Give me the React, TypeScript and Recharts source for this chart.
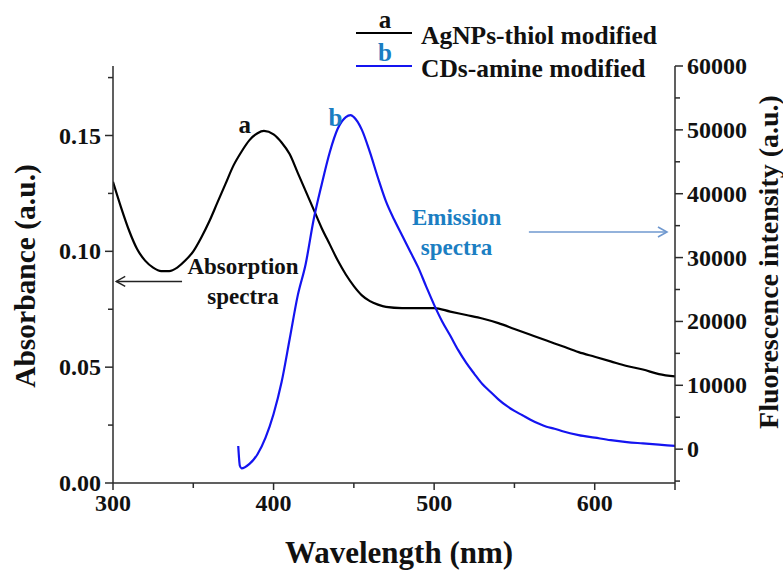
import React from 'react';
import { ComposedChart, Line, XAxis, YAxis, ReferenceDot, ReferenceLine, Label } from 'recharts';

// ---- data ----
const wavelengthA = [300, 305, 310, 315, 320, 325, 330, 335, 340, 345, 350, 355, 360, 365, 370, 375, 380, 385, 390, 394, 400, 405, 410, 415, 420, 425, 430, 435, 440, 445, 450, 455, 460, 465, 470, 480, 490, 500, 510, 520, 530, 540, 550, 560, 570, 580, 590, 600, 610, 620, 630, 640, 650];
const absorbanceA = [0.130, 0.119, 0.109, 0.101, 0.096, 0.093, 0.0915, 0.0915, 0.093, 0.096, 0.100, 0.106, 0.113, 0.121, 0.129, 0.137, 0.143, 0.148, 0.151, 0.152, 0.1505, 0.147, 0.142, 0.134, 0.126, 0.118, 0.110, 0.103, 0.096, 0.090, 0.085, 0.081, 0.0785, 0.077, 0.076, 0.0755, 0.0755, 0.0755, 0.074, 0.0725, 0.071, 0.069, 0.0665, 0.064, 0.0615, 0.059, 0.0565, 0.0545, 0.0525, 0.0505, 0.049, 0.047, 0.046];

const wavelengthB = [378, 379, 380, 385, 390, 395, 400, 405, 410, 415, 420, 425, 430, 435, 440, 445, 448, 450, 455, 460, 465, 470, 475, 480, 485, 490, 495, 500, 505, 510, 515, 520, 525, 530, 535, 540, 545, 550, 555, 560, 565, 570, 575, 580, 590, 600, 610, 620, 630, 640, 650];
const intensityB = [500, -2600, -3000, -2300, -800, 1800, 5500, 10500, 17200, 24000, 29000, 36000, 41500, 46500, 50200, 52000, 52300, 52000, 50000, 46500, 42500, 38800, 36000, 33500, 31000, 28500, 25500, 22600, 20000, 17800, 15500, 13500, 11800, 10200, 9000, 7800, 6800, 6000, 5300, 4600, 4000, 3500, 3200, 2800, 2200, 1800, 1400, 1100, 900, 700, 500];

const xTicks = [300, 350, 400, 450, 500, 550, 600, 650];
const xMajor = [300, 400, 500, 600];
const leftTicks = [0, 0.025, 0.05, 0.075, 0.1, 0.125, 0.15, 0.175];
const leftMajor = [0, 0.05, 0.1, 0.15];
const rightTicks = [-5000, 0, 5000, 10000, 15000, 20000, 25000, 30000, 35000, 40000, 45000, 50000, 55000, 60000];
const rightMajor = [0, 10000, 20000, 30000, 40000, 50000, 60000];

const seriesNames = ['AgNPs-thiol modified', 'CDs-amine modified'];
const seriesTags = ['a', 'b'];

const xTitle = 'Wavelength (nm)';
const leftTitle = 'Absorbance (a.u.)';
const rightTitle = 'Fluorescence intensity (a.u.)';

// ---- styles ----
const FONT = '"Liberation Serif", "Times New Roman", serif';
const AXIS = '#2b2b2b';
const BLACK = '#000000';
const BLUE = '#1414f0';
const TEXT_BLUE = '#1b7ec2';
const ARROW_BLUE = '#6f98cf';

const dataA = wavelengthA.map((w, i) => ({ w, v: absorbanceA[i] }));
const dataB = wavelengthB.map((w, i) => ({ w, v: intensityB[i] }));

const TICK_FS = 24;

const isIn = (arr: number[], v: number) => arr.some((m) => Math.abs(m - v) < 1e-9);

const LeftTick = (p: any) => {
  const v = p.payload.value;
  const major = isIn(leftMajor, v);
  return (
    <g>
      <line x1={p.x} x2={p.x - (major ? 8 : 5)} y1={p.y} y2={p.y} stroke={AXIS} strokeWidth={1.5} />
      {major && (
        <text x={p.x - 12} y={p.y} textAnchor="end" dominantBaseline="central" fontFamily={FONT} fontWeight="bold" fontSize={TICK_FS} fill="#111">
          {v.toFixed(2)}
        </text>
      )}
    </g>
  );
};

const RightTick = (p: any) => {
  const v = p.payload.value;
  const major = isIn(rightMajor, v);
  return (
    <g>
      <line x1={p.x} x2={p.x + (major ? 8 : 5)} y1={p.y} y2={p.y} stroke={AXIS} strokeWidth={1.5} />
      {major && (
        <text x={p.x + 12} y={p.y} textAnchor="start" dominantBaseline="central" fontFamily={FONT} fontWeight="bold" fontSize={TICK_FS} fill="#111">
          {String(v)}
        </text>
      )}
    </g>
  );
};

const BottomTick = (p: any) => {
  const v = p.payload.value;
  const major = isIn(xMajor, v) || v === 650;
  return (
    <g>
      <line x1={p.x} x2={p.x} y1={p.y} y2={p.y + (major ? 7 : 5)} stroke={AXIS} strokeWidth={1.5} />
      {isIn(xMajor, v) && (
        <text x={p.x} y={p.y + 11} textAnchor="middle" dominantBaseline="hanging" fontFamily={FONT} fontWeight="bold" fontSize={TICK_FS} fill="#111">
          {String(v)}
        </text>
      )}
    </g>
  );
};

const textShape = (txt: string, color: string, size: number) => (p: any) => (
  <text x={p.cx} y={p.cy} textAnchor="middle" dominantBaseline="central" fontFamily={FONT} fontWeight="bold" fontSize={size} fill={color}>
    {txt}
  </text>
);

const arrowShape = (color: string, width: number) => (p: any) => {
  const { x1, y1, x2, y2 } = p;
  const dir = x2 > x1 ? 1 : -1;
  return (
    <g>
      <line x1={x1} y1={y1} x2={x2} y2={y2} stroke={color} strokeWidth={width} />
      <path d={`M ${x2 - dir * 9} ${y2 - 5} L ${x2} ${y2} L ${x2 - dir * 9} ${y2 + 5}`} fill="none" stroke={color} strokeWidth={width} />
    </g>
  );
};

export default function App() {
  return (
    <div style={{ position: 'absolute', left: 0, top: 0, width: 783, height: 570, background: '#fff' }}>
      <ComposedChart width={783} height={570} margin={{ top: 66, right: 8, bottom: 47, left: 33 }}>
        <XAxis
          xAxisId="x"
          dataKey="w"
          type="number"
          domain={[300, 650]}
          ticks={xTicks}
          allowDataOverflow
          height={40}
          stroke={AXIS}
          strokeWidth={1.5}
          tickLine={false}
          tickSize={0}
          tickMargin={0}
          tick={BottomTick}
          interval={0}
        >
          <Label
            content={(p: any) => (
              <text x={p.viewBox.x + p.viewBox.width / 2 + 5} y={p.viewBox.y + 80} textAnchor="middle" fontFamily={FONT} fontWeight="bold" fontSize={31} fill="#111">
                {xTitle}
              </text>
            )}
          />
        </XAxis>
        <YAxis
          yAxisId="left"
          orientation="left"
          type="number"
          domain={[0, 0.18]}
          ticks={leftTicks}
          allowDataOverflow
          width={80}
          stroke={AXIS}
          strokeWidth={1.5}
          tickLine={false}
          tickSize={0}
          tickMargin={0}
          tick={LeftTick}
          interval={0}
        >
          <Label
            content={() => (
              <text x={25} y={276} transform="rotate(-90 25 276)" textAnchor="middle" dominantBaseline="central" fontFamily={FONT} fontWeight="bold" fontSize={29.5} fill="#111">
                {leftTitle}
              </text>
            )}
          />
        </YAxis>
        <YAxis
          yAxisId="right"
          orientation="right"
          type="number"
          domain={[-5300, 60000]}
          ticks={rightTicks}
          allowDataOverflow
          width={100}
          stroke={AXIS}
          strokeWidth={1.5}
          tickLine={false}
          tickSize={0}
          tickMargin={0}
          tick={RightTick}
          interval={0}
        >
          <Label
            content={() => (
              <text x={768} y={262} transform="rotate(-90 768 262)" textAnchor="middle" dominantBaseline="central" fontFamily={FONT} fontWeight="bold" fontSize={28} fill="#111">
                {rightTitle}
              </text>
            )}
          />
        </YAxis>

        <Line xAxisId="x" yAxisId="left" data={dataA} dataKey="v" type="monotone" stroke={BLACK} strokeWidth={2.2} dot={false} activeDot={false} isAnimationActive={false} />
        <Line xAxisId="x" yAxisId="right" data={dataB} dataKey="v" type="monotone" stroke={BLUE} strokeWidth={2.2} dot={false} activeDot={false} isAnimationActive={false} />

        <ReferenceDot xAxisId="x" yAxisId="left" x={382} y={0.1548} r={0} shape={textShape(seriesTags[0], '#111', 25)} />
        <ReferenceDot xAxisId="x" yAxisId="right" x={438.5} y={52000} r={0} shape={textShape(seriesTags[1], TEXT_BLUE, 25)} />

        <ReferenceDot xAxisId="x" yAxisId="left" x={381} y={0.0934} r={0} shape={textShape('Absorption', '#111', 23)} />
        <ReferenceDot xAxisId="x" yAxisId="left" x={381} y={0.0804} r={0} shape={textShape('spectra', '#111', 23)} />
        <ReferenceLine xAxisId="x" yAxisId="left" segment={[{ x: 343, y: 0.087 }, { x: 302, y: 0.087 }]} shape={arrowShape('#222', 1.4)} />

        <ReferenceDot xAxisId="x" yAxisId="right" x={514} y={36300} r={0} shape={textShape('Emission', TEXT_BLUE, 23)} />
        <ReferenceDot xAxisId="x" yAxisId="right" x={514} y={31500} r={0} shape={textShape('spectra', TEXT_BLUE, 23)} />
        <ReferenceLine xAxisId="x" yAxisId="right" segment={[{ x: 559, y: 34000 }, { x: 645, y: 34000 }]} shape={arrowShape(ARROW_BLUE, 1.6)} />
      </ComposedChart>

      <svg width={783} height={90} style={{ position: 'absolute', left: 0, top: 0, pointerEvents: 'none' }}>
        <line x1={356} x2={412} y1={33} y2={33} stroke={BLACK} strokeWidth={2} />
        <text x={385} y={28} textAnchor="middle" fontFamily={FONT} fontWeight="bold" fontSize={25} fill="#111">{seriesTags[0]}</text>
        <text x={421} y={35} dominantBaseline="central" fontFamily={FONT} fontWeight="bold" fontSize={25.5} fill="#111">{seriesNames[0]}</text>
        <line x1={356} x2={412} y1={66} y2={66} stroke={BLUE} strokeWidth={2} />
        <text x={385} y={61} textAnchor="middle" fontFamily={FONT} fontWeight="bold" fontSize={25} fill={TEXT_BLUE}>{seriesTags[1]}</text>
        <text x={421} y={68} dominantBaseline="central" fontFamily={FONT} fontWeight="bold" fontSize={25.5} fill="#111">{seriesNames[1]}</text>
      </svg>
    </div>
  );
}
